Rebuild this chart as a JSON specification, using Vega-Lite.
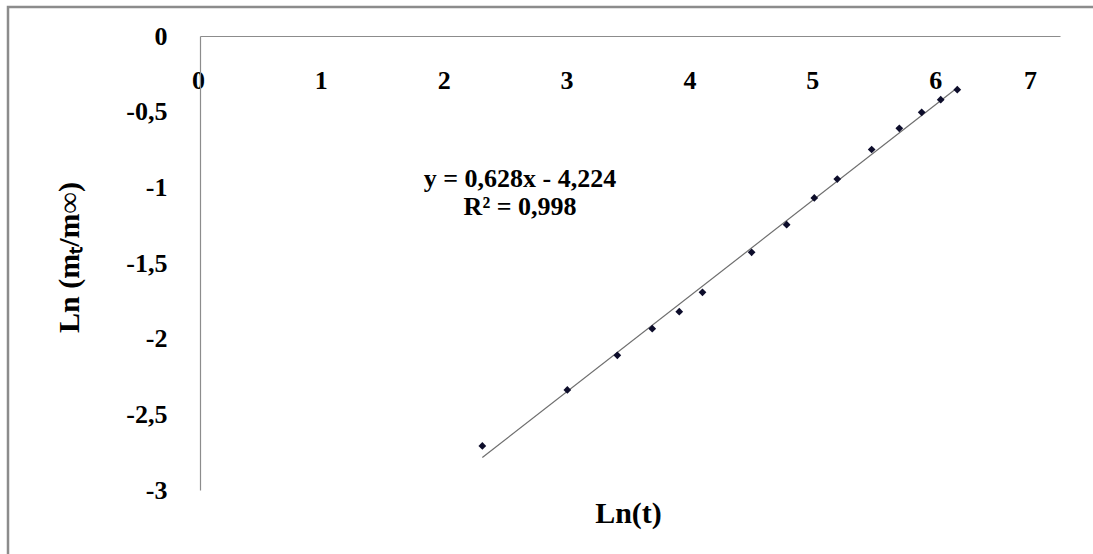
{
  "$schema": "https://vega.github.io/schema/vega-lite/v6.json",
  "autosize": {"type": "none"},
  "padding": {"left": 8, "top": 7, "right": 0, "bottom": 0},
  "width": 1085,
  "height": 547,
  "background": "white",
  "config": {
    "view": {"stroke": "#8c8c8c", "strokeWidth": 2.5, "strokeDash": [1085, 1632, 547]},
    "axis": {
      "labelFont": "Liberation Serif",
      "labelFontWeight": "bold",
      "labelColor": "black",
      "labelFontSize": 26,
      "titleFont": "Liberation Serif",
      "titleFontWeight": "bold",
      "titleColor": "black",
      "titleFontSize": 30,
      "domainColor": "#8c8c8c",
      "domainWidth": 1.2,
      "ticks": false,
      "grid": false,
      "labelOverlap": false,
      "labelBound": false,
      "labelFlush": false
    }
  },
  "data": {
    "values": [
      {"lnt": 2.298, "lnm": -2.709},
      {"lnt": 2.990, "lnm": -2.339},
      {"lnt": 3.397, "lnm": -2.110},
      {"lnt": 3.681, "lnm": -1.934},
      {"lnt": 3.901, "lnm": -1.822},
      {"lnt": 4.090, "lnm": -1.694},
      {"lnt": 4.490, "lnm": -1.429},
      {"lnt": 4.775, "lnm": -1.247},
      {"lnt": 5.000, "lnm": -1.070},
      {"lnt": 5.187, "lnm": -0.945},
      {"lnt": 5.467, "lnm": -0.750},
      {"lnt": 5.692, "lnm": -0.610},
      {"lnt": 5.874, "lnm": -0.504},
      {"lnt": 6.029, "lnm": -0.421},
      {"lnt": 6.164, "lnm": -0.355}
    ]
  },
  "layer": [
    {
      "transform": [{"regression": "lnm", "on": "lnt"}],
      "mark": {"type": "line", "color": "#6e6e6e", "strokeWidth": 1.2, "clip": false},
      "encoding": {
        "x": {
          "field": "lnt",
          "type": "quantitative",
          "scale": {"domain": [0, 7], "range": [192, 1052], "nice": false, "zero": false},
          "axis": {
            "orient": "top",
            "offset": -29,
            "values": [0, 1, 2, 3, 4, 5, 6, 7],
            "format": "d",
            "labelPadding": -52,
            "labelBaseline": "alphabetic",
            "labelAlign": "center",
            "labelOffset": {"condition": {"test": "datum.value === 7", "value": -30}, "value": -2},
            "title": "Ln(t)",
            "titleX": 620,
            "titleY": 486,
            "titleAlign": "center",
            "titleBaseline": "alphabetic",
            "titleAngle": 0
          }
        },
        "y": {
          "field": "lnm",
          "type": "quantitative",
          "scale": {"domain": [-3, 0], "range": [483, 29], "nice": false, "zero": false},
          "axis": {
            "orient": "left",
            "offset": -192,
            "values": [0, -0.5, -1, -1.5, -2, -2.5, -3],
            "labelExpr": "replace(toString(datum.value), '.', ',')",
            "labelPadding": 33,
            "labelAlign": "right",
            "labelBaseline": "middle",
            "title": "Ln (mₜ/m∞)",
            "titleAngle": 270,
            "titleX": -122,
            "titleY": 250,
            "titleAlign": "center",
            "titleBaseline": "alphabetic"
          }
        }
      }
    },
    {
      "mark": {"type": "point", "shape": "diamond", "filled": true, "size": 60, "color": "#0d0d2b", "opacity": 1, "strokeWidth": 0},
      "encoding": {
        "x": {"field": "lnt", "type": "quantitative"},
        "y": {"field": "lnm", "type": "quantitative"}
      }
    },
    {
      "data": {"values": [{"eq": "trendline"}]},
      "mark": {
        "type": "text",
        "text": ["y = 0,628x - 4,224", "R² = 0,998"],
        "font": "Liberation Serif",
        "fontWeight": "bold",
        "fontSize": 26,
        "lineHeight": 28,
        "align": "center",
        "baseline": "alphabetic",
        "color": "black"
      },
      "encoding": {
        "x": {"datum": 2.605, "type": "quantitative"},
        "y": {"datum": -1.0, "type": "quantitative"}
      }
    }
  ]
}
